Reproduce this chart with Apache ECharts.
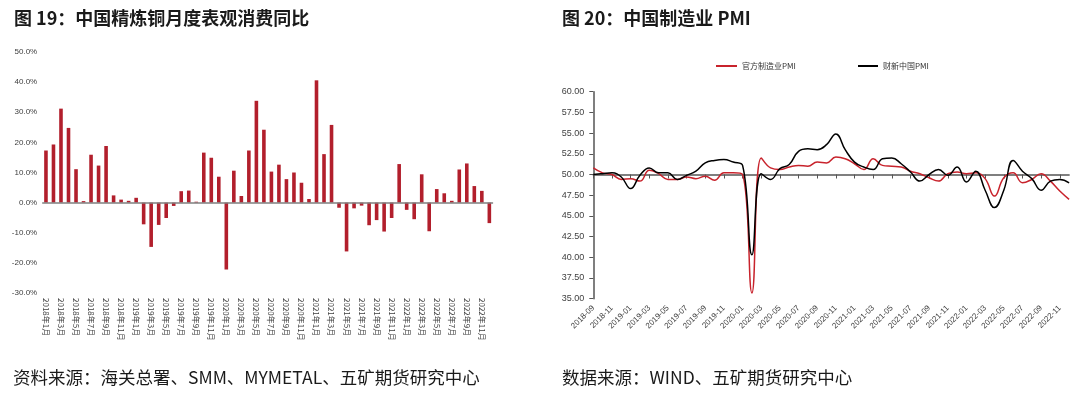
<!DOCTYPE html>
<html>
<head>
<meta charset="utf-8">
<script src="https://cdn.jsdelivr.net/npm/echarts@6/dist/echarts.min.js"></script>
<style>
html,body{margin:0;padding:0;background:#fff;}
#c{width:1080px;height:396px;}
</style>
</head>
<body>
<div id="c"></div>
<script>
// ---- Left chart: refined copper apparent consumption YoY (%) ----
const copperMonths = [
 '2018年1月','2018年2月','2018年3月','2018年4月','2018年5月','2018年6月','2018年7月','2018年8月','2018年9月','2018年10月','2018年11月','2018年12月',
 '2019年1月','2019年2月','2019年3月','2019年4月','2019年5月','2019年6月','2019年7月','2019年8月','2019年9月','2019年10月','2019年11月','2019年12月',
 '2020年1月','2020年2月','2020年3月','2020年4月','2020年5月','2020年6月','2020年7月','2020年8月','2020年9月','2020年10月','2020年11月','2020年12月',
 '2021年1月','2021年2月','2021年3月','2021年4月','2021年5月','2021年6月','2021年7月','2021年8月','2021年9月','2021年10月','2021年11月','2021年12月',
 '2022年1月','2022年2月','2022年3月','2022年4月','2022年5月','2022年6月','2022年7月','2022年8月','2022年9月','2022年10月','2022年11月','2022年12月'
];
const copperYoY = [
 17.3, 19.3, 31.2, 24.8, 11.1, 0.5, 15.9, 12.3, 18.8, 2.4, 1.0, 0.6,
 1.6, -7.2, -14.7, -7.4, -5.1, -1.1, 3.8, 4.0, 0.3, 16.6, 14.9, 8.6,
 -22.2, 10.6, 2.2, 17.3, 33.8, 24.2, 10.3, 12.6, 7.8, 10.0, 6.6, 1.2,
 40.6, 16.1, 25.8, -1.7, -16.2, -1.9, -1.0, -7.5, -5.8, -9.6, -5.1, 12.8,
 -2.4, -5.5, 9.4, -9.5, 4.5, 3.1, 0.6, 11.0, 13.0, 5.5, 3.9, -6.8
];

// ---- Right chart: PMI ----
const pmiMonths = [
 '2018-09','2018-10','2018-11','2018-12',
 '2019-01','2019-02','2019-03','2019-04','2019-05','2019-06','2019-07','2019-08','2019-09','2019-10','2019-11','2019-12',
 '2020-01','2020-02','2020-03','2020-04','2020-05','2020-06','2020-07','2020-08','2020-09','2020-10','2020-11','2020-12',
 '2021-01','2021-02','2021-03','2021-04','2021-05','2021-06','2021-07','2021-08','2021-09','2021-10','2021-11','2021-12',
 '2022-01','2022-02','2022-03','2022-04','2022-05','2022-06','2022-07','2022-08','2022-09','2022-10','2022-11','2022-12'
];
const officialPMI = [
 50.8, 50.2, 50.0, 49.4,
 49.5, 49.2, 50.5, 50.1, 49.4, 49.4, 49.7, 49.5, 49.8, 49.3, 50.2, 50.2,
 50.0, 35.7, 52.0, 50.8, 50.6, 50.9, 51.1, 51.0, 51.5, 51.4, 52.1, 51.9,
 51.3, 50.6, 51.9, 51.1, 51.0, 50.9, 50.4, 50.1, 49.6, 49.2, 50.1, 50.3,
 50.1, 50.2, 49.5, 47.4, 49.6, 50.2, 49.0, 49.4, 50.1, 49.2, 48.0, 47.0
];
const caixinPMI = [
 50.0, 50.1, 50.2, 49.7,
 48.3, 49.9, 50.8, 50.2, 50.2, 49.4, 49.9, 50.4, 51.4, 51.7, 51.8, 51.5,
 51.1, 40.3, 50.1, 49.4, 50.7, 51.2, 52.8, 53.1, 53.0, 53.6, 54.9, 53.0,
 51.5, 50.9, 50.6, 51.9, 52.0, 51.3, 50.3, 49.2, 50.0, 50.6, 49.9, 50.9,
 49.1, 50.4, 48.1, 46.0, 48.1, 51.7, 50.4, 49.5, 48.1, 49.2, 49.4, 49.0
];

const FONT = "'Liberation Sans','Noto Sans CJK SC',Arial,sans-serif";
const CJK = "'Noto Sans CJK SC','Liberation Sans',sans-serif";
const chart = echarts.init(document.getElementById('c'), null, {renderer: 'canvas'});

const option = {
  animation: false,
  backgroundColor: '#fff',
  textStyle: {fontFamily: FONT},
  title: [
    {text: '图 19：中国精炼铜月度表观消费同比', left: 9, top: 4,
     textStyle: {fontFamily: CJK, fontSize: 18, fontWeight: 'bold', color: '#1a1a1a'}},
    {text: '图 20：中国制造业 PMI', left: 557, top: 4,
     textStyle: {fontFamily: CJK, fontSize: 18, fontWeight: 'bold', color: '#1a1a1a'}},
    {text: '资料来源：海关总署、SMM、MYMETAL、五矿期货研究中心', left: 8, top: 364,
     textStyle: {fontFamily: CJK, fontSize: 17.5, fontWeight: 'normal', color: '#1a1a1a'}},
    {text: '数据来源：WIND、五矿期货研究中心', left: 557, top: 364,
     textStyle: {fontFamily: CJK, fontSize: 17.5, fontWeight: 'normal', color: '#1a1a1a'}}
  ],
  legend: [
    {data: ['官方制造业PMI'], left: 711, top: 57, icon: 'rect', itemWidth: 21, itemHeight: 2,
     itemGap: 4, textStyle: {fontSize: 8, color: '#333', fontFamily: CJK}},
    {data: ['财新中国PMI'], left: 853, top: 57, icon: 'rect', itemWidth: 20, itemHeight: 2,
     itemGap: 4, textStyle: {fontSize: 8, color: '#333', fontFamily: CJK}}
  ],
  grid: [
    {left: 42.2, width: 450.9, top: 52, height: 241},
    {left: 593.3, width: 475.8, top: 91.7, height: 207},
    {left: 593.3, width: 475.8, top: 91.7, height: 82.8}
  ],
  xAxis: [
    {type: 'category', gridIndex: 0, data: copperMonths, boundaryGap: true,
     axisLine: {show: false, onZero: false}, axisTick: {show: false},
     axisLabel: {interval: 1, rotate: -90, fontSize: 8, color: '#404040', margin: 5, fontFamily: CJK}},
    {type: 'category', gridIndex: 1, data: pmiMonths, boundaryGap: false,
     axisLine: {show: false, onZero: false}, axisTick: {show: false},
     axisLabel: {interval: 1, rotate: 45, fontSize: 8, color: '#404040', margin: 8}},
    {type: 'category', gridIndex: 2, data: pmiMonths, boundaryGap: false,
     axisLine: {show: true, onZero: false, lineStyle: {color: '#555', width: 1.5}},
     axisTick: {show: true, interval: 1, length: 4, lineStyle: {color: '#555', width: 1}},
     axisLabel: {show: false}}
  ],
  yAxis: [
    {type: 'value', gridIndex: 0, min: -30, max: 50, interval: 10,
     axisLine: {show: false}, axisTick: {show: false}, splitLine: {show: false},
     axisLabel: {fontSize: 8, color: '#404040', margin: 5,
       formatter: v => v.toFixed(1) + '%'}},
    {type: 'value', gridIndex: 1, min: 35, max: 60, interval: 2.5,
     axisLine: {show: true, lineStyle: {color: '#555', width: 1.5}},
     axisTick: {show: true, length: 4, lineStyle: {color: '#555'}}, splitLine: {show: false},
     axisLabel: {fontSize: 9, color: '#404040', margin: 9,
       formatter: v => v.toFixed(2)}},
    {type: 'value', gridIndex: 2, min: 50, max: 60, show: false}
  ],
  series: [
    {name: '精炼铜表观消费同比', type: 'bar', xAxisIndex: 0, yAxisIndex: 0, data: copperYoY,
     barWidth: 3.6, itemStyle: {color: '#B21F2C'},
     markLine: {silent: true, symbol: 'none', label: {show: false},
       lineStyle: {color: '#7f7f7f', width: 1.5, type: 'solid'},
       data: [{yAxis: 0}]}},
    {name: '官方制造业PMI', type: 'line', xAxisIndex: 1, yAxisIndex: 1, data: officialPMI,
     smooth: 0.45, showSymbol: false, lineStyle: {color: '#C8232C', width: 1.5},
     itemStyle: {color: '#C8232C'}},
    {name: '财新中国PMI', type: 'line', xAxisIndex: 1, yAxisIndex: 1, data: caixinPMI,
     smooth: 0.45, showSymbol: false, lineStyle: {color: '#000', width: 1.5},
     itemStyle: {color: '#000'}}
  ]
};
chart.setOption(option);
</script>
</body>
</html>
